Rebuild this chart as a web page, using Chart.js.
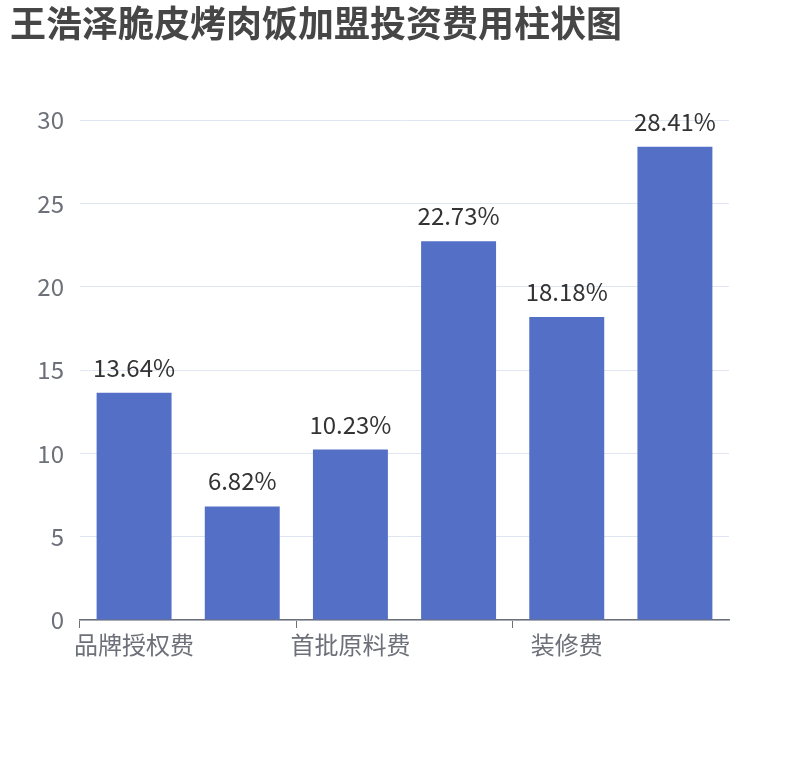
<!DOCTYPE html>
<html>
<head>
<meta charset="utf-8">
<script src="https://cdn.jsdelivr.net/npm/chart.js@4"></script>
<style>
  html, body { margin: 0; padding: 0; background: #fff; }
  #wrap { width: 810px; height: 760px; }
</style>
</head>
<body>
<div id="wrap"><canvas id="costChart"></canvas></div>
<script>
// Chart data
const categories = ['品牌授权费', '加盟费', '首批原料费', '设备费', '装修费', '其他费用'];
const shares = [13.64, 6.82, 10.23, 22.73, 18.18, 28.41];

const axisColor = '#6E7079';
const barColor = '#5470C6';
const fontFamily = '"Noto Sans CJK SC", "Noto Sans", sans-serif';

// Draw the percentage above every bar
const valueLabels = {
    id: 'valueLabels',
    afterDatasetsDraw(chart) {
        const ctx = chart.ctx;
        const meta = chart.getDatasetMeta(0);
        ctx.save();
        ctx.font = '24px ' + fontFamily;
        ctx.fillStyle = '#333';
        ctx.textAlign = 'center';
        ctx.textBaseline = 'alphabetic';
        meta.data.forEach((bar, i) => {
            ctx.fillText(shares[i].toFixed(2) + '%', bar.x, bar.y - 16);
        });
        ctx.restore();
    }
};

new Chart(document.getElementById('costChart'), {
    type: 'bar',
    data: {
        labels: categories,
        datasets: [{
            data: shares,
            backgroundColor: barColor,
            barPercentage: 0.693,
            categoryPercentage: 1
        }]
    },
    options: {
        responsive: true,
        maintainAspectRatio: false,
        animation: false,
        layout: {
            padding: { left: 10, right: 81, top: 0, bottom: 100 }
        },
        plugins: {
            legend: { display: false },
            tooltip: { enabled: false },
            title: {
                display: true,
                text: '王浩泽脆皮烤肉饭加盟投资费用柱状图',
                align: 'start',
                color: '#464646',
                font: { family: fontFamily, size: 36, weight: 'bold' },
                padding: { top: 2, bottom: 75 }
            }
        },
        scales: {
            x: {
                grid: {
                    display: true,
                    drawOnChartArea: false,
                    drawTicks: true,
                    tickLength: 8,
                    color: c => c.index % 2 === 0 ? axisColor : 'rgba(0,0,0,0)'
                },
                border: { color: axisColor, width: 1.5 },
                ticks: {
                    autoSkip: false,
                    maxRotation: 0,
                    color: axisColor,
                    padding: 2,
                    font: { family: fontFamily, size: 24 },
                    callback: function(value, index) {
                        return index % 2 === 0 ? this.getLabelForValue(value) : '';
                    }
                },
                afterFit: s => { s.height = 40; }
            },
            y: {
                min: 0,
                max: 30,
                border: { display: false },
                grid: { color: '#E0E6F1', drawTicks: false },
                ticks: {
                    stepSize: 5,
                    color: axisColor,
                    padding: 16,
                    font: { family: fontFamily, size: 24 }
                },
                afterFit: s => { s.width = 70; }
            }
        }
    },
    plugins: [valueLabels]
});
</script>
</body>
</html>
